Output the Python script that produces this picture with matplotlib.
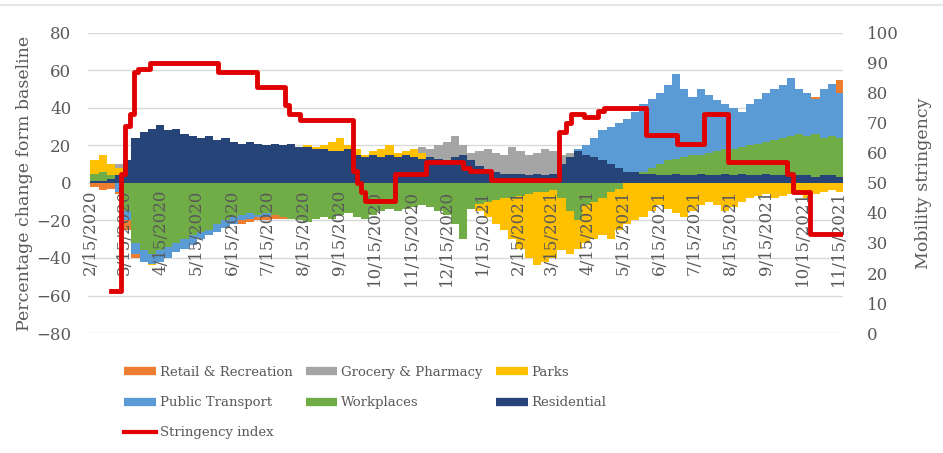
import numpy as np
import pandas as pd
import matplotlib
matplotlib.use("Agg")
import matplotlib.pyplot as plt
from matplotlib.lines import Line2D

plt.rcParams['font.family'] = ['DejaVu Serif']

# weekly mobility values (% change from baseline), weeks starting 2/15/2020
week_start = "2020-02-15"

retail = [-2, -4, -3, -6, -25, -40, -42, -40, -38, -36, -33, -30, -28, -27, -25, -24,
          -23, -22, -22, -21, -20, -20, -19, -19, -18, -18, -17, -16, -15, -15, -14, -13,
          -12, -12, -11, -10, -9, -8, -8, -7, -6, -5, -4, -2, 2, -5, -6, -8,
          -9, -8, -7, -6, -5, -5, -4, -3, -3, 0, 2, 5, 8, 10, 12, 14,
          15, 17, 19, 20, 22, 24, 26, 28, 27, 28, 30, 29, 30, 31, 32, 33,
          34, 35, 36, 37, 38, 40, 42, 44, 46, 48, 50, 55]

grocery = [5, 6, 8, 10, 5, -10, -15, -18, -15, -12, -10, -8, -6, -5, -4, -3,
           -2, -2, -1, 0, 1, 2, 3, 3, 4, 5, 8, 10, 12, 14, 16, 15,
           12, 10, 15, 17, 18, 16, 17, 18, 19, 18, 20, 22, 25, 20, 16, 17,
           18, 16, 15, 19, 17, 15, 16, 18, 17, 15, 16, 14, 15, 13, 12, 10,
           10, 12, 14, 15, 16, 18, 20, 18, 17, 18, 20, 22, 20, 18, 19, 21,
           22, 20, 23, 24, 25, 26, 25, 27, 28, 27, 30, 32]

parks = [12, 15, 10, 8, -10, -35, -42, -44, -40, -35, -30, -25, -20, -15, -10, -8,
         -5, -3, 0, 2, 5, 8, 5, 12, 14, 16, 20, 19, 20, 22, 24, 20,
         18, 15, 17, 18, 20, 16, 17, 18, 16, 14, 12, 10, 8, -5, -12, -15,
         -18, -22, -25, -30, -35, -40, -44, -42, -40, -36, -38, -35, -32, -30, -28, -30,
         -25, -22, -20, -18, -15, -12, -14, -16, -18, -15, -12, -10, -12, -15, -13, -10,
         -8, -7, -6, -8, -7, -6, -5, -8, -6, -5, -4, -5]

transport = [2, 3, 1, -5, -20, -38, -42, -43, -42, -40, -37, -35, -33, -30, -28, -26,
             -24, -22, -20, -19, -18, -18, -17, -16, -17, -16, -15, -14, -13, -12, -12, -11,
             -10, -10, -9, -8, -7, -6, -5, -4, -3, -2, 2, 4, 6, 3, 0, -2,
             -3, -2, -1, 0, 1, 2, 3, 4, 5, 8, 12, 18, 20, 24, 28, 30,
             32, 34, 38, 42, 45, 48, 52, 58, 50, 46, 50, 47, 44, 42, 40, 38,
             42, 45, 48, 50, 52, 56, 50, 48, 45, 50, 53, 48]

workplaces = [5, 6, 4, 2, -15, -32, -36, -38, -36, -34, -32, -30, -28, -26, -25, -22,
              -20, -18, -17, -16, -17, -16, -17, -18, -19, -20, -21, -19, -18, -19, -17, -16,
              -18, -19, -17, -15, -14, -15, -14, -13, -12, -13, -15, -17, -22, -30, -14, -11,
              -10, -9, -8, -8, -7, -6, -5, -5, -4, -8, -15, -20, -12, -10, -8, -5,
              -3, 2, 4, 6, 8, 10, 12, 13, 14, 15, 15, 16, 17, 18, 18, 19,
              20, 21, 22, 23, 24, 25, 26, 25, 26, 24, 25, 24]

residential = [1, 1, 2, 4, 12, 24, 27, 29, 31, 28, 29, 26, 25, 24, 25, 23,
               24, 22, 21, 22, 21, 20, 21, 20, 21, 19, 19, 18, 18, 17, 17, 18,
               15, 14, 15, 14, 15, 14, 15, 14, 13, 14, 13, 12, 14, 15, 12, 9,
               7, 6, 5, 5, 5, 4, 5, 4, 5, 10, 14, 17, 15, 14, 12, 10,
               8, 6, 6, 5, 5, 4, 4, 5, 4, 4, 5, 4, 4, 5, 4, 5,
               4, 4, 5, 4, 4, 3, 4, 4, 3, 4, 4, 3]

# stringency index (step changes)
str_dates = ['2020-03-04', '2020-03-12', '2020-03-16', '2020-03-20', '2020-03-23', '2020-03-27',
             '2020-04-06', '2020-06-03', '2020-07-06', '2020-07-30', '2020-08-03', '2020-08-12',
             '2020-09-26', '2020-09-30', '2020-10-03', '2020-10-07', '2020-11-01', '2020-11-28',
             '2020-12-29', '2021-01-04', '2021-01-22', '2021-03-21', '2021-03-27', '2021-04-01',
             '2021-04-12', '2021-04-24', '2021-04-29', '2021-06-04', '2021-06-30', '2021-07-23',
             '2021-08-13', '2021-10-02', '2021-10-07', '2021-10-22', '2021-11-19']
str_vals = [14, 53, 69, 73, 87, 88, 90, 87, 82, 76, 73, 71,
            54, 50, 47, 44, 53, 57, 55, 54, 51, 67, 70, 73,
            72, 74, 75, 66, 63, 73, 57, 53, 47, 33, 33]

series = [("Retail & Recreation", retail, "#ED7D31"),
          ("Grocery & Pharmacy", grocery, "#A5A5A5"),
          ("Parks", parks, "#FFC000"),
          ("Public Transport", transport, "#5B9BD5"),
          ("Workplaces", workplaces, "#70AD47"),
          ("Residential", residential, "#264478")]

weeks = pd.date_range(week_start, periods=len(retail), freq="7D")
tick_dates = pd.date_range("2020-02-01", periods=22, freq="MS") + pd.Timedelta(days=14)
tick_labels = [f"{d.month}/{d.day}/{d.year}" for d in tick_dates]
yticks = list(range(-80, 81, 20))

fig = plt.figure(figsize=(9.43, 4.53), dpi=100)
ax = fig.add_axes([88/943, 1-333/453, (843-88)/943, 300/453])

# gridlines behind the bars, tick labels on top of them
for yv in yticks:
    ax.axhline(yv, color="#D9D9D9", lw=1, zorder=0.5)

for name, vals, col in series:
    ax.bar(weeks, vals, width=7, align="edge", color=col, linewidth=0, label=name, zorder=1)

txtc = "#595959"
ax2 = ax.twinx()
ax2.step(pd.to_datetime(str_dates), str_vals, where="post", color="#E00000", lw=3.5)
ax2.set_ylim(0, 100)
ax2.set_yticks(range(0, 101, 10))
for s in ["top", "right", "left", "bottom"]:
    ax2.spines[s].set_visible(False)
ax2.tick_params(axis="y", length=0, pad=17, labelsize=12, labelcolor=txtc)
ax2.set_ylabel("Mobility stringency", fontsize=12.5, color=txtc, labelpad=12)

ax.set_ylim(-80, 80)
ax.set_yticks(yticks)
ax.set_xlim(pd.Timestamp("2020-02-13"), pd.Timestamp("2021-11-19"))
ax.set_xticks(tick_dates)
ax.set_xticklabels(tick_labels)
ax.tick_params(axis="x", length=0, pad=5, labelrotation=90, labelsize=12, labelcolor=txtc)
ax.set_axisbelow(False)
for s in ["top", "right", "left", "bottom"]:
    ax.spines[s].set_visible(False)
ax.tick_params(axis="y", length=0, pad=12, labelsize=12, labelcolor=txtc)
ax.set_ylabel("Percentage change form baseline", fontsize=12.5, color=txtc, labelpad=2)
ax.spines["bottom"].set_position(("data", 0))

# legend, row-major order like the original
h = {name: Line2D([], [], color=col, lw=6, solid_capstyle="butt") for name, _, col in series}
h["Stringency index"] = Line2D([], [], color="#E00000", lw=3)
order = ["Retail & Recreation", "Public Transport", "Stringency index",
         "Grocery & Pharmacy", "Workplaces", "Parks", "Residential"]
fig.legend([h[k] for k in order], order, ncol=3, loc="upper left",
           bbox_to_anchor=(124/943, 1-366/453), frameon=False, fontsize=9.5,
           handlelength=2.4, handletextpad=0.3, columnspacing=1.0, labelspacing=1.3,
           borderpad=0, borderaxespad=0, labelcolor=txtc)

# faint chart frame line at the top
fig.add_artist(Line2D([0, 1], [1-5/453, 1-5/453], color="#E6E6E6", lw=1.5))

fig.savefig("out.png", dpi=100)
